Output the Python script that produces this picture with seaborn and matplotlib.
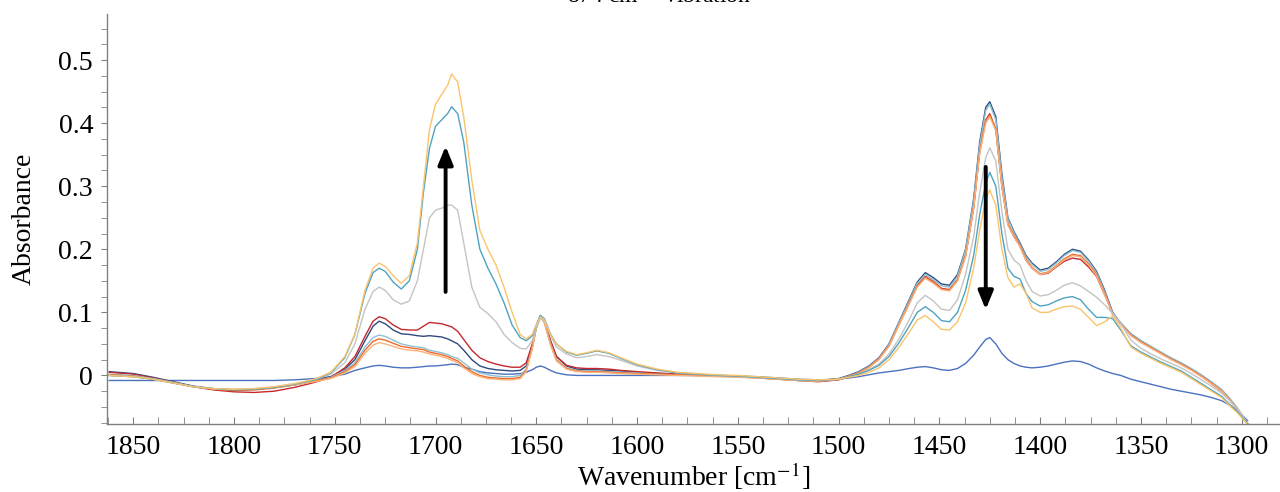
import numpy as np
import pandas as pd
import matplotlib
matplotlib.use("Agg")
import matplotlib.pyplot as plt
from matplotlib.ticker import MultipleLocator, FuncFormatter
import seaborn as sns

# wavenumber grid (cm-1), high -> low
wavenumber = [
    1862, 1850, 1840, 1830, 1820, 1810, 1800, 1790, 1780, 1770,
    1760, 1752, 1745, 1740, 1735, 1731, 1728, 1725, 1721, 1717,
    1713, 1709, 1706, 1703, 1700, 1697, 1694, 1692, 1689, 1686,
    1682, 1678, 1674, 1670, 1666, 1662, 1658, 1655, 1652, 1650,
    1648, 1646, 1643, 1640, 1635, 1630, 1625, 1620, 1614, 1608,
    1600, 1590, 1580, 1570, 1560, 1550, 1540, 1530, 1520, 1510,
    1500, 1495, 1490, 1485, 1480, 1475, 1470, 1465, 1461, 1457,
    1453, 1449, 1445, 1441, 1437, 1433, 1430, 1427, 1425, 1422,
    1419, 1416, 1413, 1410, 1407, 1404, 1400, 1396, 1392, 1388,
    1384, 1380, 1376, 1372, 1368, 1364, 1360, 1355, 1350, 1345,
    1340, 1335, 1330, 1325, 1320, 1315, 1310, 1306, 1302, 1297,
]

abs_blue = [
    -0.008, -0.008, -0.008, -0.008, -0.008, -0.008, -0.008, -0.008, -0.008, -0.007,
    -0.005, -0.002, 0.002, 0.008, 0.012, 0.015, 0.016, 0.015, 0.013, 0.012,
    0.012, 0.013, 0.014, 0.015, 0.015, 0.016, 0.017, 0.018, 0.017, 0.013,
    0.010, 0.006, 0.004, 0.003, 0.002, 0.002, 0.003, 0.005, 0.009, 0.013,
    0.015, 0.013, 0.008, 0.004, 0.001, 0.000, 0.000, 0.000, 0.000, 0.000,
    0.000, 0.000, 0.000, 0.000, 0.000, -0.001, -0.002, -0.004, -0.006, -0.007,
    -0.006, -0.004, -0.002, 0.001, 0.004, 0.006, 0.008, 0.011, 0.013, 0.014,
    0.012, 0.009, 0.008, 0.011, 0.019, 0.032, 0.045, 0.057, 0.060, 0.050,
    0.035, 0.025, 0.019, 0.015, 0.013, 0.012, 0.013, 0.015, 0.018, 0.021,
    0.023, 0.022, 0.018, 0.012, 0.007, 0.003, 0.000, -0.006, -0.010, -0.014,
    -0.018, -0.022, -0.025, -0.028, -0.031, -0.035, -0.040, -0.047, -0.056, -0.072,
]

abs_navy = [
    0.006, 0.003, -0.003, -0.010, -0.017, -0.021, -0.023, -0.022, -0.019, -0.015,
    -0.008, -0.002, 0.010, 0.025, 0.055, 0.078, 0.086, 0.082, 0.072, 0.066,
    0.065, 0.063, 0.062, 0.063, 0.062, 0.061, 0.058, 0.055, 0.050, 0.040,
    0.025, 0.015, 0.011, 0.009, 0.008, 0.007, 0.008, 0.015, 0.045, 0.075,
    0.093, 0.085, 0.055, 0.030, 0.015, 0.010, 0.009, 0.009, 0.008, 0.007,
    0.005, 0.003, 0.002, 0.001, 0.000, -0.001, -0.003, -0.005, -0.007, -0.008,
    -0.005, 0.000, 0.006, 0.015, 0.028, 0.050, 0.085, 0.120, 0.148, 0.163,
    0.155, 0.145, 0.143, 0.160, 0.200, 0.280, 0.370, 0.425, 0.434, 0.410,
    0.320, 0.250, 0.228, 0.210, 0.190, 0.178, 0.167, 0.170, 0.180, 0.192,
    0.200, 0.197, 0.183, 0.165, 0.135, 0.100, 0.082, 0.066, 0.055, 0.045,
    0.035, 0.027, 0.019, 0.010, 0.000, -0.012, -0.024, -0.038, -0.054, -0.077,
]

abs_red = [
    0.005, 0.002, -0.004, -0.011, -0.018, -0.023, -0.026, -0.027, -0.025, -0.019,
    -0.011, -0.003, 0.012, 0.030, 0.062, 0.086, 0.093, 0.090, 0.080, 0.073,
    0.072, 0.072, 0.078, 0.084, 0.083, 0.082, 0.079, 0.077, 0.070, 0.057,
    0.040, 0.028, 0.022, 0.018, 0.015, 0.013, 0.013, 0.020, 0.050, 0.078,
    0.094, 0.086, 0.056, 0.030, 0.016, 0.012, 0.011, 0.011, 0.010, 0.008,
    0.006, 0.004, 0.002, 0.001, 0.000, -0.001, -0.003, -0.005, -0.008, -0.010,
    -0.007, -0.002, 0.004, 0.013, 0.026, 0.047, 0.082, 0.115, 0.143, 0.157,
    0.149, 0.138, 0.136, 0.152, 0.190, 0.265, 0.355, 0.405, 0.415, 0.390,
    0.300, 0.240, 0.220, 0.205, 0.183, 0.170, 0.160, 0.162, 0.172, 0.181,
    0.186, 0.184, 0.172, 0.157, 0.128, 0.098, 0.081, 0.065, 0.054, 0.045,
    0.035, 0.026, 0.018, 0.009, -0.001, -0.013, -0.025, -0.039, -0.055, -0.077,
]

abs_lightteal = [
    0.002, 0.000, -0.005, -0.011, -0.018, -0.021, -0.023, -0.022, -0.019, -0.015,
    -0.009, -0.003, 0.008, 0.020, 0.045, 0.060, 0.064, 0.062, 0.056, 0.050,
    0.047, 0.045, 0.044, 0.040, 0.038, 0.036, 0.033, 0.030, 0.027, 0.020,
    0.010, 0.004, 0.001, -0.001, -0.002, -0.002, 0.000, 0.010, 0.045, 0.078,
    0.095, 0.086, 0.052, 0.025, 0.012, 0.008, 0.007, 0.007, 0.006, 0.005,
    0.004, 0.002, 0.001, 0.000, -0.001, -0.002, -0.004, -0.006, -0.008, -0.009,
    -0.006, -0.001, 0.005, 0.014, 0.027, 0.049, 0.084, 0.118, 0.146, 0.160,
    0.152, 0.142, 0.140, 0.157, 0.198, 0.277, 0.365, 0.420, 0.430, 0.405,
    0.315, 0.248, 0.226, 0.208, 0.188, 0.176, 0.165, 0.168, 0.178, 0.190,
    0.198, 0.195, 0.181, 0.163, 0.133, 0.099, 0.084, 0.066, 0.055, 0.046,
    0.037, 0.028, 0.020, 0.011, 0.001, -0.010, -0.022, -0.036, -0.052, -0.077,
]

abs_orangered = [
    0.001, -0.001, -0.006, -0.012, -0.018, -0.022, -0.024, -0.023, -0.020, -0.015,
    -0.009, -0.004, 0.006, 0.017, 0.040, 0.054, 0.058, 0.056, 0.051, 0.046,
    0.044, 0.042, 0.041, 0.037, 0.035, 0.033, 0.030, 0.027, 0.023, 0.015,
    0.006, 0.000, -0.003, -0.004, -0.005, -0.005, -0.003, 0.008, 0.044, 0.078,
    0.095, 0.085, 0.050, 0.024, 0.011, 0.007, 0.006, 0.006, 0.005, 0.004,
    0.003, 0.002, 0.001, 0.000, -0.001, -0.002, -0.004, -0.006, -0.008, -0.009,
    -0.006, -0.001, 0.004, 0.013, 0.026, 0.047, 0.081, 0.114, 0.142, 0.156,
    0.148, 0.137, 0.135, 0.151, 0.190, 0.268, 0.355, 0.405, 0.413, 0.390,
    0.302, 0.240, 0.222, 0.206, 0.184, 0.171, 0.161, 0.164, 0.174, 0.185,
    0.192, 0.190, 0.177, 0.160, 0.130, 0.097, 0.082, 0.064, 0.053, 0.044,
    0.035, 0.026, 0.018, 0.009, -0.001, -0.012, -0.024, -0.038, -0.054, -0.077,
]

abs_lightorange = [
    0.000, -0.002, -0.006, -0.012, -0.018, -0.021, -0.022, -0.021, -0.019, -0.015,
    -0.010, -0.005, 0.004, 0.014, 0.035, 0.048, 0.052, 0.050, 0.046, 0.042,
    0.040, 0.039, 0.037, 0.034, 0.032, 0.030, 0.027, 0.024, 0.020, 0.012,
    0.003, -0.002, -0.005, -0.006, -0.007, -0.007, -0.005, 0.006, 0.042, 0.077,
    0.093, 0.083, 0.049, 0.023, 0.010, 0.006, 0.005, 0.005, 0.004, 0.003,
    0.002, 0.001, 0.000, -0.001, -0.002, -0.003, -0.004, -0.006, -0.008, -0.009,
    -0.006, -0.002, 0.003, 0.012, 0.025, 0.046, 0.080, 0.113, 0.140, 0.154,
    0.146, 0.136, 0.134, 0.150, 0.188, 0.265, 0.352, 0.400, 0.410, 0.388,
    0.300, 0.238, 0.220, 0.204, 0.182, 0.170, 0.160, 0.163, 0.173, 0.183,
    0.190, 0.188, 0.175, 0.158, 0.128, 0.096, 0.081, 0.063, 0.052, 0.043,
    0.034, 0.025, 0.017, 0.008, -0.002, -0.013, -0.025, -0.039, -0.055, -0.078,
]

abs_gray = [
    0.000, -0.002, -0.006, -0.012, -0.018, -0.021, -0.022, -0.021, -0.018, -0.013,
    -0.007, 0.002, 0.020, 0.050, 0.105, 0.133, 0.140, 0.135, 0.120, 0.113,
    0.118, 0.150, 0.200, 0.250, 0.262, 0.265, 0.270, 0.270, 0.262, 0.210,
    0.140, 0.108, 0.098, 0.085, 0.065, 0.052, 0.043, 0.042, 0.055, 0.075,
    0.090, 0.086, 0.064, 0.045, 0.034, 0.028, 0.030, 0.033, 0.030, 0.024,
    0.015, 0.008, 0.004, 0.002, 0.000, -0.001, -0.003, -0.005, -0.007, -0.008,
    -0.006, -0.002, 0.002, 0.009, 0.018, 0.034, 0.058, 0.088, 0.115, 0.127,
    0.118, 0.105, 0.103, 0.120, 0.160, 0.220, 0.290, 0.345, 0.361, 0.340,
    0.260, 0.200, 0.183, 0.175, 0.150, 0.133, 0.126, 0.128, 0.135, 0.143,
    0.147, 0.142, 0.133, 0.124, 0.112, 0.098, 0.082, 0.056, 0.043, 0.034,
    0.026, 0.019, 0.012, 0.003, -0.007, -0.017, -0.028, -0.040, -0.054, -0.076,
]

abs_teal = [
    0.000, -0.002, -0.006, -0.012, -0.018, -0.021, -0.023, -0.022, -0.019, -0.014,
    -0.007, 0.004, 0.028, 0.065, 0.130, 0.163, 0.170, 0.165, 0.148, 0.137,
    0.150, 0.200, 0.290, 0.360, 0.395, 0.405, 0.415, 0.426, 0.415, 0.370,
    0.270, 0.200, 0.170, 0.145, 0.115, 0.080, 0.060, 0.055, 0.063, 0.080,
    0.095, 0.090, 0.066, 0.050, 0.037, 0.032, 0.035, 0.039, 0.035, 0.027,
    0.017, 0.009, 0.004, 0.002, 0.000, -0.001, -0.003, -0.005, -0.007, -0.008,
    -0.006, -0.002, 0.002, 0.008, 0.016, 0.030, 0.052, 0.078, 0.100, 0.109,
    0.100, 0.087, 0.085, 0.100, 0.135, 0.190, 0.255, 0.305, 0.322, 0.300,
    0.225, 0.170, 0.157, 0.153, 0.130, 0.117, 0.110, 0.112, 0.118, 0.123,
    0.125, 0.120, 0.105, 0.092, 0.092, 0.090, 0.072, 0.047, 0.037, 0.029,
    0.021, 0.014, 0.007, -0.003, -0.013, -0.023, -0.033, -0.046, -0.058, -0.077,
]

abs_yellow = [
    0.000, -0.002, -0.006, -0.012, -0.018, -0.021, -0.022, -0.021, -0.018, -0.013,
    -0.006, 0.005, 0.030, 0.065, 0.135, 0.170, 0.178, 0.173, 0.158, 0.146,
    0.158, 0.210, 0.300, 0.390, 0.430, 0.445, 0.460, 0.478, 0.465, 0.410,
    0.310, 0.230, 0.200, 0.175, 0.140, 0.100, 0.065, 0.058, 0.065, 0.080,
    0.093, 0.088, 0.065, 0.050, 0.038, 0.033, 0.036, 0.040, 0.036, 0.028,
    0.018, 0.010, 0.005, 0.003, 0.001, 0.000, -0.002, -0.004, -0.006, -0.007,
    -0.006, -0.003, 0.000, 0.005, 0.012, 0.025, 0.045, 0.068, 0.088, 0.095,
    0.085, 0.073, 0.072, 0.085, 0.115, 0.170, 0.230, 0.280, 0.294, 0.270,
    0.200, 0.155, 0.140, 0.145, 0.130, 0.107, 0.100, 0.100, 0.105, 0.109,
    0.110, 0.105, 0.092, 0.079, 0.085, 0.094, 0.075, 0.045, 0.035, 0.027,
    0.019, 0.012, 0.005, -0.005, -0.015, -0.025, -0.035, -0.048, -0.060, -0.078,
]

series = {
    "blue": abs_blue,
    "navy": abs_navy,
    "red": abs_red,
    "lightteal": abs_lightteal,
    "orangered": abs_orangered,
    "lightorange": abs_lightorange,
    "gray": abs_gray,
    "teal": abs_teal,
    "yellow": abs_yellow,
}
colors = {
    "blue": "#4a72c0",
    "navy": "#2e4a7c",
    "red": "#c4282e",
    "lightteal": "#8ec0d2",
    "orangered": "#f06a2a",
    "lightorange": "#f9b27a",
    "gray": "#c4c4c4",
    "teal": "#4ea3c0",
    "yellow": "#fac46c",
}

frames = []
for name, vals in series.items():
    frames.append(pd.DataFrame({"wn": wavenumber, "A": vals, "spec": name}))
df = pd.concat(frames, ignore_index=True)

sns.set_style("ticks")
plt.rcParams["font.family"] = ["Liberation Serif", "DejaVu Serif"]
plt.rcParams["mathtext.fontset"] = "stix"
plt.rcParams["text.color"] = "black"
plt.rcParams["axes.labelcolor"] = "black"

fig = plt.figure(figsize=(12.8, 4.92), dpi=100)
ax = fig.add_axes([107 / 1280, 68 / 492, 1 - 107 / 1280, (424 - 14) / 492])

sns.lineplot(data=df, x="wn", y="A", hue="spec", hue_order=list(series.keys()),
             palette=colors, estimator=None, legend=False, linewidth=1.0, ax=ax)

ax.set_xlim(1863, 1281)
ax.set_ylim(-0.077, 0.573)

ax.xaxis.set_major_locator(MultipleLocator(50))
ax.xaxis.set_minor_locator(MultipleLocator(12.5))
ax.yaxis.set_major_locator(MultipleLocator(0.1))
ax.yaxis.set_minor_locator(MultipleLocator(0.025))
ax.yaxis.set_major_formatter(FuncFormatter(lambda v, p: "0" if abs(v) < 1e-9 else f"{v:.1f}"))

ax.tick_params(axis="x", which="both", direction="in", length=5, color="#808080",
               labelsize=20, pad=8, labelcolor="black")
ax.tick_params(axis="y", which="both", direction="out", length=4, color="#808080",
               labelsize=20, pad=6, labelcolor="black")

for side in ["top", "right"]:
    ax.spines[side].set_visible(False)
for side in ["left", "bottom"]:
    ax.spines[side].set_color("#808080")
    ax.spines[side].set_linewidth(1.0)

ax.set_xlabel("Wavenumber [cm$^{-1}$]", fontsize=20, labelpad=0)
ax.set_ylabel("Absorbance", fontsize=20, labelpad=16)

# arrows: growth of the 1700 band, loss of the 1425 band
ax.annotate("", xy=(1695, 0.368), xytext=(1695, 0.128),
            arrowprops=dict(arrowstyle="-|>,head_length=1.1,head_width=0.45",
                            color="black", lw=2.8))
ax.annotate("", xy=(1427, 0.100), xytext=(1427, 0.335),
            arrowprops=dict(arrowstyle="-|>,head_length=1.1,head_width=0.45",
                            color="black", lw=2.8))

# title mostly cut off at the top edge of the picture, as in the source
fig.text(0.515, 1.010, "874 cm$^{-1}$ vibration", ha="center", va="center", fontsize=17)

fig.savefig("out.png", dpi=100)
